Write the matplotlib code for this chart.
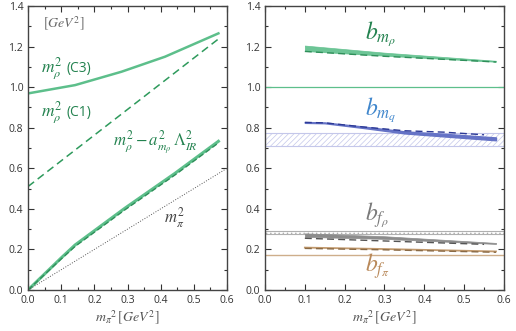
import numpy as np
import matplotlib.pyplot as plt
from matplotlib.ticker import MultipleLocator

plt.rcParams['font.family'] = ['Open Sans', 'DejaVu Sans']
plt.rcParams['mathtext.fontset'] = 'stix'
plt.rcParams['hatch.linewidth'] = 0.5

# left panel data
x_c3 = [0.0, 0.142, 0.282, 0.413, 0.574]
y_c3 = [0.969, 1.010, 1.076, 1.150, 1.265]
x_c1 = [0.0, 0.58]
y_c1 = [0.51, 1.245]
x_sub = [0.0, 0.1, 0.142, 0.292, 0.443, 0.574]
y_sub = [0.0, 0.158, 0.222, 0.403, 0.575, 0.733]
y_sub_dash = [0.0, 0.153, 0.215, 0.395, 0.567, 0.725]
x_pi = [0.0, 0.6]
y_pi = [0.0, 0.6]

# right panel data
x_b = [0.1, 0.3, 0.58]
bmr_top = [1.205, 1.17, 1.13]
bmr_bot = [1.178, 1.155, 1.125]
bmr_dash = [1.176, 1.152, 1.124]
x_mq = [0.1, 0.15, 0.25, 0.35, 0.45, 0.58]
bmq_top = [0.828, 0.826, 0.805, 0.782, 0.77, 0.752]
bmq_bot = [0.824, 0.822, 0.798, 0.772, 0.757, 0.738]
x_mqd = [0.1, 0.15, 0.25, 0.35, 0.45, 0.55]
bmq_dash = [0.826, 0.824, 0.803, 0.785, 0.778, 0.765]
mq_hatch = [0.712, 0.776]
bfr_top = [0.279, 0.265, 0.232]
bfr_bot = [0.262, 0.252, 0.227]
x_fd = [0.1, 0.55]
bfr_dash = [0.255, 0.225]
bfr_line = [0.276, 0.289]
bfp_sol = [0.209, 0.202, 0.19]
bfp_dash = [0.205, 0.198, 0.186]
bfp_line = 0.174

green = '#5dbf8b'
dgreen = '#2f8f5a'
tgreen = '#23824f'
blue = '#6573c6'
dblue = '#2d3a96'
tblue = '#3f86cc'
gray = '#8c8c8c'
brown = '#c29a6e'
tbrown = '#b9895a'

fig = plt.figure(figsize=(5.16, 3.31), dpi=100)
ax1 = fig.add_axes([0.0543, 0.1239, 0.3857, 0.8580])
ax2 = fig.add_axes([0.5136, 0.1239, 0.4631, 0.8580])

for ax in (ax1, ax2):
    ax.set_xlim(0, 0.6)
    ax.set_ylim(0, 1.4)
    ax.xaxis.set_major_locator(MultipleLocator(0.1))
    ax.xaxis.set_minor_locator(MultipleLocator(0.05))
    ax.yaxis.set_major_locator(MultipleLocator(0.2))
    ax.yaxis.set_minor_locator(MultipleLocator(0.1))
    ax.tick_params(which='both', direction='in', top=True, right=True,
                   labelsize=7.5, colors='#333333', width=0.8)
    ax.tick_params(which='major', length=4)
    ax.tick_params(which='minor', length=2)
    ax.xaxis.set_major_formatter(plt.FormatStrFormatter('%.1f'))
    ax.yaxis.set_major_formatter(plt.FormatStrFormatter('%.1f'))
    for s in ax.spines.values():
        s.set_color('#444444')
        s.set_linewidth(1.0)
    ax.set_xlabel(r'$m_{\pi}{}^{2}\,[GeV^{2}]$', fontsize=10, color='#555555', labelpad=2)

# left panel
ax1.plot(x_c3, y_c3, color=green, lw=1.8)
ax1.plot(x_c1, y_c1, color='#2e9a5c', lw=1.1, dashes=(5, 3))
ax1.plot(x_sub, y_sub, color=green, lw=2.2)
ax1.plot(x_sub, y_sub_dash, color=dgreen, lw=1.0, dashes=(4, 2))
ax1.plot(x_pi, y_pi, color='#555555', lw=0.7, ls=':')

ax1.text(0.045, 1.29, r'$[GeV^{2}]$', fontsize=10, color='#666666')
ax1.text(0.04, 1.076, r'$m_{\rho}^{2}$', fontsize=12.5, color=tgreen)
ax1.text(0.115, 1.076, '(C3)', fontsize=10, color=tgreen)
ax1.text(0.04, 0.86, r'$m_{\rho}^{2}$', fontsize=12.5, color=tgreen)
ax1.text(0.115, 0.86, '(C1)', fontsize=10, color=tgreen)
ax1.text(0.255, 0.71, r'$m_{\rho}^{2}-a_{m_{\rho}}^{2}\,\Lambda_{IR}^{2}$', fontsize=12, color=tgreen)
ax1.text(0.41, 0.33, r'$m_{\pi}^{2}$', fontsize=12, color='#444444')

# right panel
ax2.axhline(1.0, color=green, lw=0.9)
ax2.fill_between(x_b, bmr_bot, bmr_top, color=green, lw=0.5, alpha=0.9)
ax2.plot(x_b, bmr_dash, color=dgreen, lw=1.0, dashes=(5, 3))

ax2.fill_between([0, 0.6], mq_hatch[0], mq_hatch[1], facecolor='none',
                 edgecolor='#c4c7ea', hatch='//////', lw=0.8)
ax2.fill_between(x_mq, bmq_bot, bmq_top, color=blue, lw=1.0)
ax2.plot(x_mqd, bmq_dash, color=dblue, lw=1.0, dashes=(5, 3))

ax2.fill_between([0, 0.6], bfr_line[0], bfr_line[1], facecolor='none',
                 edgecolor='#b0b0b0', hatch='....', lw=0.8)
ax2.fill_between(x_b, bfr_bot, bfr_top, color=gray, lw=0.5)
ax2.plot(x_fd, bfr_dash, color='#555555', lw=1.0, dashes=(5, 3))

ax2.axhline(bfp_line, color=brown, lw=1.0, alpha=0.8)
ax2.plot(x_b, bfp_sol, color=brown, lw=1.3)
ax2.plot(x_b, bfp_dash, color='#8a6a45', lw=1.0, dashes=(5, 3))

ax2.text(0.25, 1.235, r'$b_{m_{\rho}}$', fontsize=17, color=tgreen)
ax2.text(0.25, 0.86, r'$b_{m_{q}}$', fontsize=17, color=tblue)
ax2.text(0.25, 0.345, r'$b_{f_{\rho}}$', fontsize=17, color='#7a7a7a')
ax2.text(0.25, 0.09, r'$b_{f_{\pi}}$', fontsize=17, color=tbrown)

fig.savefig('out.png', dpi=100)
